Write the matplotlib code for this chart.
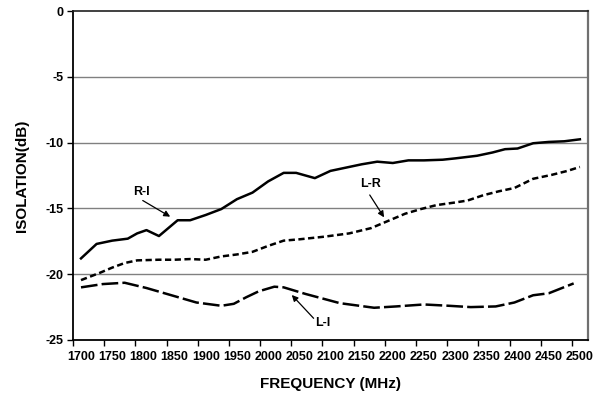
import matplotlib
matplotlib.use("Agg")
import matplotlib.pyplot as plt
import numpy as np

plt.rcParams['font.family'] = ['Liberation Sans', 'DejaVu Sans']
plt.rcParams['font.weight'] = 'bold'
plt.rcParams['lines.scale_dashes'] = False

# Data
ri_f = [1700, 1725, 1750, 1775, 1790, 1805, 1825, 1840, 1855, 1875, 1900, 1925, 1950, 1975,
        2000, 2025, 2045, 2060, 2075, 2100, 2125, 2150, 2175, 2200, 2225, 2250, 2280, 2300,
        2335, 2360, 2380, 2400, 2425, 2450, 2475, 2500]
ri_v = [-18.8, -17.7, -17.45, -17.3, -16.9, -16.65, -17.1, -16.5, -15.9, -15.9, -15.5, -15.05,
        -14.3, -13.8, -12.95, -12.3, -12.3, -12.5, -12.7, -12.15, -11.9, -11.65, -11.45, -11.55,
        -11.35, -11.35, -11.3, -11.2, -11.0, -10.75, -10.5, -10.45, -10.05, -9.95, -9.9, -9.75]

lr_f = [1700, 1730, 1750, 1770, 1790, 1825, 1850, 1875, 1900, 1925, 1950, 1975, 2000, 2025,
        2050, 2090, 2130, 2165, 2190, 2220, 2245, 2270, 2300, 2320, 2345, 2370, 2395, 2425,
        2455, 2480, 2500]
lr_v = [-20.45, -19.9, -19.5, -19.15, -18.95, -18.9, -18.9, -18.85, -18.9, -18.65, -18.5, -18.3,
        -17.85, -17.45, -17.35, -17.15, -16.9, -16.5, -16.0, -15.4, -15.05, -14.75, -14.55,
        -14.4, -14.0, -13.7, -13.45, -12.75, -12.45, -12.15, -11.85]

li_f = [1700, 1735, 1770, 1805, 1845, 1885, 1925, 1945, 1965, 1985, 2010, 2025, 2060, 2115,
        2170, 2205, 2250, 2290, 2325, 2365, 2395, 2425, 2450, 2490]
li_v = [-21.0, -20.75, -20.65, -21.05, -21.6, -22.15, -22.4, -22.25, -21.75, -21.3, -20.95,
        -21.0, -21.5, -22.2, -22.55, -22.45, -22.3, -22.4, -22.5, -22.45, -22.15, -21.6,
        -21.45, -20.7]

x_labels = list(range(1700, 2501, 50))
y_ticks = [0, -5, -10, -15, -20, -25]

fig = plt.figure(figsize=(6, 4), dpi=100)
ax = fig.add_axes([0.1217, 0.15, 0.98 - 0.1217, 0.9725 - 0.15])

ax.set_xlim(1687.2, 2513)
ax.set_ylim(-25, 0)

for g in [-5, -10, -15, -20]:
    ax.axhline(g, color='#808080', lw=1.0, zorder=1)

ax.plot(ri_f, ri_v, color='black', lw=1.8, solid_joinstyle='round', zorder=3)
ax.plot(lr_f, lr_v, color='black', lw=1.8, dashes=(4.5, 2.5), zorder=3)
ax.plot(li_f, li_v, color='black', lw=1.8, dashes=(12, 3), zorder=3)

ax.set_xticks(x_labels)
ax.set_xticklabels([str(v) for v in x_labels], fontsize=9, fontweight='bold')
ax.tick_params(axis='x', which='major', length=0, pad=8)
ax.set_xticks([1687.2 + 50 * k for k in range(17)], minor=True)
ax.tick_params(axis='x', which='minor', length=4, direction='out', width=1, color='black')

ax.set_yticks(y_ticks)
ax.set_yticklabels([str(v) for v in y_ticks], fontsize=9, fontweight='bold')
ax.tick_params(axis='y', which='major', length=4, direction='out', width=1, pad=3)

for s in ['left', 'bottom']:
    ax.spines[s].set_color('black')
    ax.spines[s].set_linewidth(1.3)
ax.spines['top'].set_color('#202020')
ax.spines['top'].set_linewidth(1.2)
ax.spines['right'].set_color('#707070')
ax.spines['right'].set_linewidth(1.6)

ax.set_xlabel('FREQUENCY (MHz)', fontsize=11, fontweight='bold', labelpad=10)
ax.set_ylabel('ISOLATION(dB)', fontsize=11, fontweight='bold', labelpad=12)

arrow = dict(arrowstyle='-|>', color='black', lw=0.9, mutation_scale=9, shrinkA=0, shrinkB=0)
ax.annotate('', xy=(1843, -15.63), xytext=(1799, -14.4), arrowprops=arrow, zorder=4)
ax.text(1797, -13.73, 'R-I', fontsize=9, fontweight='bold', ha='center', va='center')
ax.annotate('', xy=(2186, -15.68), xytext=(2163, -13.98), arrowprops=arrow, zorder=4)
ax.text(2164, -13.17, 'L-R', fontsize=9, fontweight='bold', ha='center', va='center')
ax.annotate('', xy=(2038, -21.58), xytext=(2073, -23.35), arrowprops=arrow, zorder=4)
ax.text(2088, -23.73, 'L-I', fontsize=9, fontweight='bold', ha='center', va='center')

fig.savefig('out.png', dpi=100)
